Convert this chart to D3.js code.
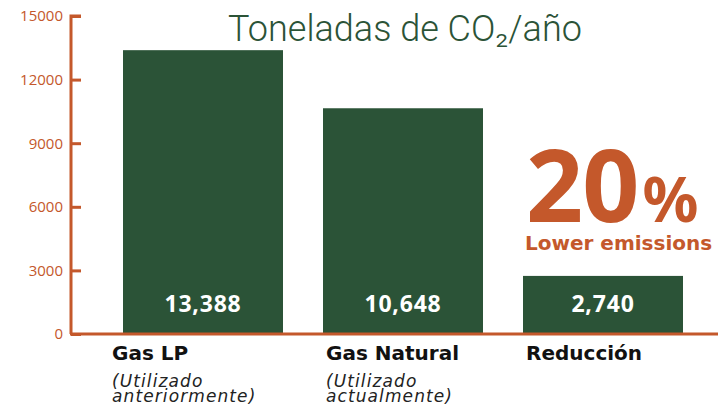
<!DOCTYPE html>
<html>
<head>
<meta charset="utf-8">
<script src="https://cdn.jsdelivr.net/npm/d3@7"></script>
<style>
  body { margin: 0; background: #fff; }
  svg { display: block; }
</style>
</head>
<body>
<svg></svg>
<script>
const categories = ["Gas LP", "Gas Natural", "Reducción"]
const subtitles = [["(Utilizado", "anteriormente)"], ["(Utilizado", "actualmente)"], []]
const values = [13388, 10648, 2740]
const yTicks = [0, 3000, 6000, 9000, 12000, 15000]

const green = "#2b5337",
    orange = "#c4582b"

let svg = d3.select("svg"),
    w = 718,
    h = 407
svg.attr("width", w).attr("height", h)

let x = d3.scaleBand()
    .domain(categories)
    .range([71, 735])
    .paddingInner(0.2)
    .paddingOuter(0.26)

let y = d3.scaleLinear()
    .domain([0, 15000])
    .range([334, 16])

// bars
svg.append("g").selectAll("rect")
    .data(values)
    .enter().append("rect")
    .attr("x", (d, i) => x(categories[i]))
    .attr("y", d => y(d))
    .attr("width", x.bandwidth())
    .attr("height", d => y(0) - y(d))
    .attr("fill", green)

// value labels
svg.append("g").selectAll("text")
    .data(values)
    .enter().append("text")
    .attr("x", (d, i) => x(categories[i]) + x.bandwidth() / 2)
    .attr("y", 312)
    .attr("text-anchor", "middle")
    .attr("fill", "#fff")
    .attr("letter-spacing", "0.8")
    .style("font", "bold 23px 'Noto Sans'")
    .text(d => d3.format(",")(d))

// y axis
let yAxis = d3.axisRight(y)
    .tickValues(yTicks)
    .tickSize(10)
    .tickFormat(d3.format("d"))
let ga = svg.append("g")
    .attr("transform", "translate(71,0)")
    .call(yAxis)
ga.select(".domain").attr("stroke", orange).attr("stroke-width", 3)
    .attr("d", "M10,16H0V334")
ga.selectAll(".tick line").attr("stroke", orange).attr("stroke-width", 3)
ga.selectAll(".tick text")
    .attr("x", -8)
    .attr("text-anchor", "end")
    .attr("fill", orange)
    .style("font", "15px 'Open Sans'")

// baseline
svg.append("line")
    .attr("x1", 70)
    .attr("x2", w)
    .attr("y1", y(0))
    .attr("y2", y(0))
    .attr("stroke", orange)
    .attr("stroke-width", 3)

// category labels
let cat = svg.append("g").selectAll("g")
    .data(categories)
    .enter().append("g")
    .attr("transform", (d, i) => "translate(" + (x(d) + (i === 0 ? -11 : 3)) + ",0)")
cat.append("text")
    .attr("y", 360)
    .attr("fill", "#111")
    .style("font", "bold 20px 'DejaVu Sans'")
    .text(d => d)
cat.each(function (d, i) {
    d3.select(this).selectAll(".sub")
        .data(subtitles[i])
        .enter().append("text")
        .attr("class", "sub")
        .attr("y", (s, j) => 387 + j * 15)
        .attr("fill", "#222")
        .attr("letter-spacing", "1.1")
        .style("font", "oblique 17px 'DejaVu Sans'")
        .text(s => s)
})

// title
svg.append("text")
    .attr("x", 405)
    .attr("y", 41)
    .attr("text-anchor", "middle")
    .attr("fill", green)
    .style("font", "300 36px Roboto")
    .text("Toneladas de CO₂/año")

// callout
let callout = svg.append("text")
    .attr("x", 526)
    .attr("y", 222)
    .attr("fill", orange)
    .style("font-family", "'Noto Sans'")
    .style("font-weight", "bold")
callout.append("tspan").style("font-size", "100px").attr("letter-spacing", "-1").text("20")
callout.append("tspan").style("font-size", "62px").attr("dx", 4).text("%")

svg.append("text")
    .attr("x", 525)
    .attr("y", 250)
    .attr("fill", orange)
    .style("font", "bold 20px 'DejaVu Sans'")
    .text("Lower emissions")
</script>
</body>
</html>
